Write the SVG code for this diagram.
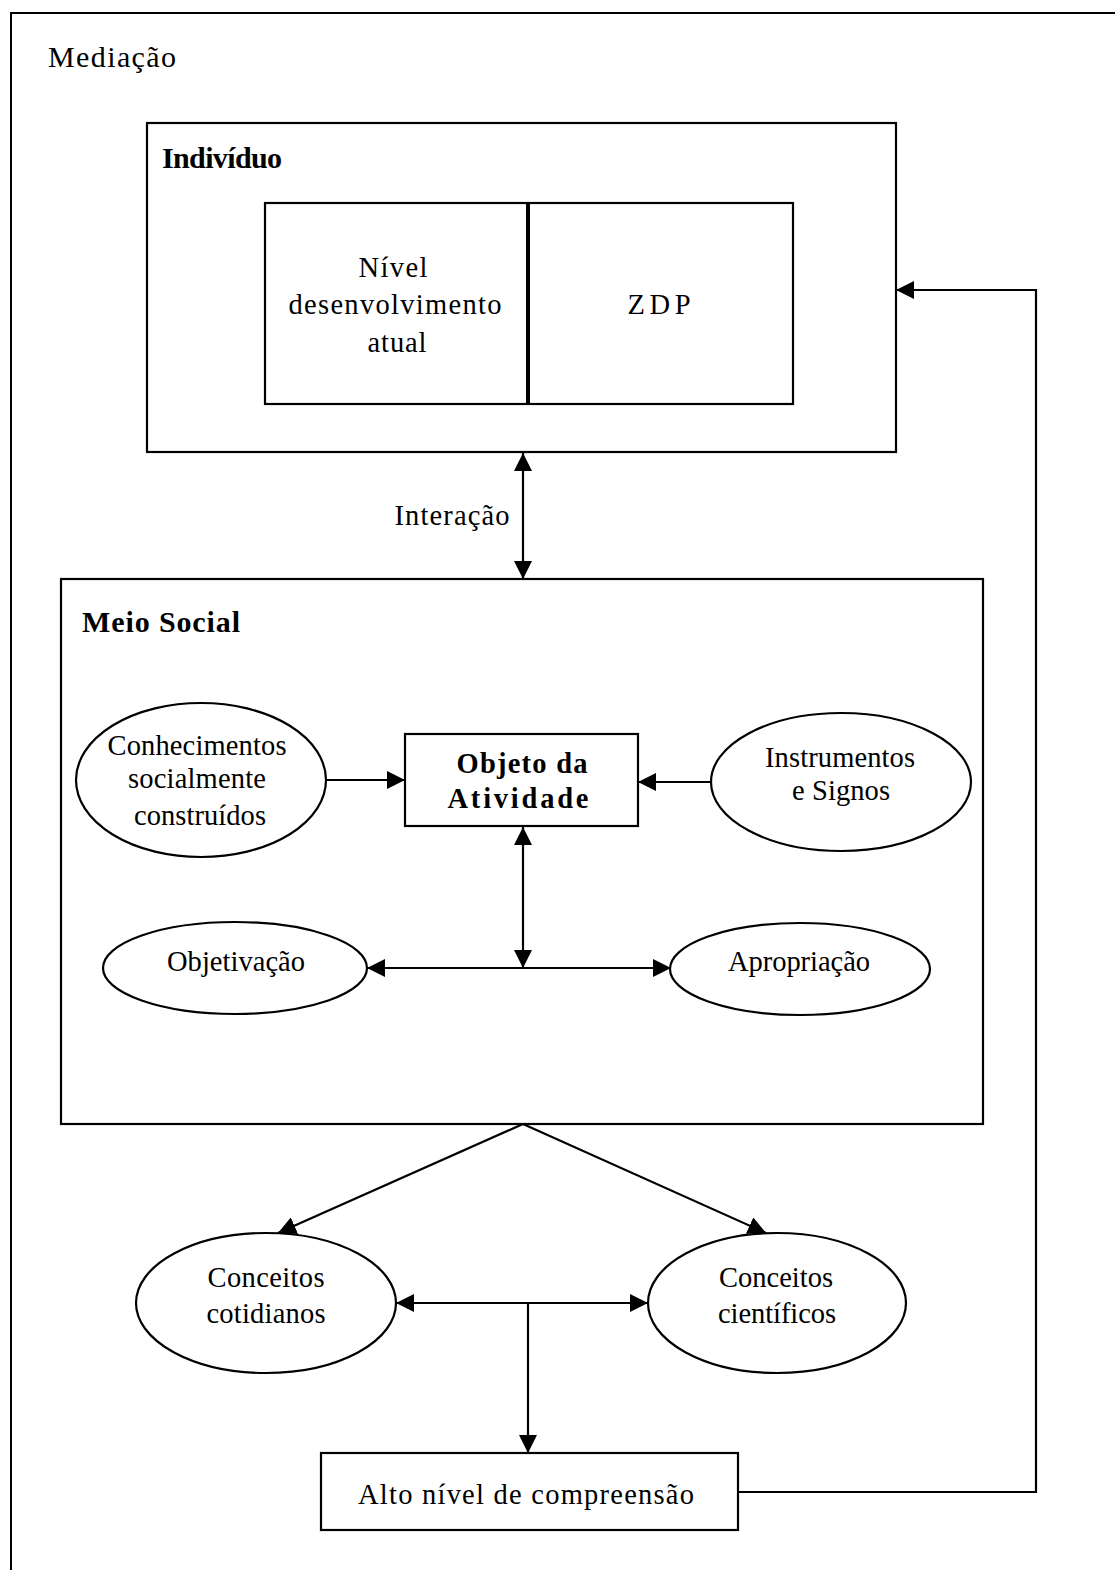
<svg xmlns="http://www.w3.org/2000/svg" width="1115" height="1570" viewBox="0 0 1115 1570">
  <style>
    .frame { fill: none; stroke: #000; stroke-width: 2; }
    .node { fill: #fff; stroke: #000; stroke-width: 2.2; }
    .link { fill: none; stroke: #000; stroke-width: 2.2; }
    .t { font-family: "Liberation Serif", "Times New Roman", serif; font-size: 28.5px; fill: #000; text-anchor: middle; }
    .title { font-family: "Liberation Serif", "Times New Roman", serif; font-size: 30px; fill: #000; }
    .b { font-weight: bold; }
  </style>
  <defs>
    <marker id="ah" viewBox="0 0 18 18" refX="18" refY="9" markerWidth="18" markerHeight="18" markerUnits="userSpaceOnUse" orient="auto-start-reverse">
      <path d="M0,0 L18,9 L0,18 z" fill="#000"/>
    </marker>
  </defs>

  <rect width="1115" height="1570" fill="#fff"/>

  <!-- outer frame: Mediação -->
  <g id="mediacao">
    <path class="frame" d="M11,1570 V13 H1115"/>
    <text class="title" x="48" y="67" textLength="128">Mediação</text>
  </g>

  <!-- Indivíduo -->
  <g id="individuo">
    <rect class="node" x="147" y="123" width="749" height="329"/>
    <text class="title b" x="162" y="168" font-size="29" textLength="120">Indivíduo</text>
  </g>
  <g id="nivel-zdp">
    <rect class="node" x="265" y="203" width="528" height="201"/>
    <line x1="528" y1="203" x2="528" y2="404" stroke="#000" stroke-width="4"/>
    <text class="t" x="393" y="277" textLength="69">Nível</text>
    <text class="t" x="395" y="314" textLength="213">desenvolvimento</text>
    <text class="t" x="397" y="352" textLength="59">atual</text>
    <text class="t" x="659" y="314" textLength="63">ZDP</text>
  </g>

  <!-- Meio Social -->
  <g id="meio-social">
    <rect class="node" x="61" y="579" width="922" height="545"/>
    <text class="title b" x="82" y="632" font-size="29" textLength="158">Meio Social</text>
  </g>
  <g id="conhecimentos">
    <ellipse class="node" cx="201" cy="780" rx="125" ry="77"/>
    <text class="t" x="197" y="755" textLength="179">Conhecimentos</text>
    <text class="t" x="197" y="788" textLength="138">socialmente</text>
    <text class="t" x="200" y="825" textLength="132">construídos</text>
  </g>
  <g id="objeto">
    <rect class="node" x="405" y="734" width="233" height="92"/>
    <text class="t b" x="522" y="773" textLength="131">Objeto da</text>
    <text class="t b" x="518" y="808" textLength="141">Atividade</text>
  </g>
  <g id="instrumentos">
    <ellipse class="node" cx="841" cy="782" rx="130" ry="69"/>
    <text class="t" x="840" y="767" textLength="150">Instrumentos</text>
    <text class="t" x="841" y="800" textLength="98">e Signos</text>
  </g>
  <g id="objetivacao">
    <ellipse class="node" cx="235" cy="968" rx="132" ry="46"/>
    <text class="t" x="236" y="971" textLength="138">Objetivação</text>
  </g>
  <g id="apropriacao">
    <ellipse class="node" cx="800" cy="969" rx="130" ry="46"/>
    <text class="t" x="799" y="971" textLength="142">Apropriação</text>
  </g>

  <!-- conceitos -->
  <g id="cotidianos">
    <ellipse class="node" cx="266" cy="1303" rx="130" ry="70"/>
    <text class="t" x="266" y="1287" textLength="117">Conceitos</text>
    <text class="t" x="266" y="1323" textLength="119">cotidianos</text>
  </g>
  <g id="cientificos">
    <ellipse class="node" cx="777" cy="1303" rx="129" ry="70"/>
    <text class="t" x="776" y="1287" textLength="114">Conceitos</text>
    <text class="t" x="777" y="1323" textLength="118">científicos</text>
  </g>
  <g id="alto-nivel">
    <rect class="node" x="321" y="1453" width="417" height="77"/>
    <text class="t" x="526" y="1504" textLength="336">Alto nível de compreensão</text>
  </g>

  <!-- connectors -->
  <g id="connectors">
    <line class="link" x1="523" y1="453" x2="523" y2="579" marker-start="url(#ah)" marker-end="url(#ah)"/>
    <text class="t" x="452" y="525" textLength="115">Interação</text>
    <line class="link" x1="326" y1="780" x2="405" y2="780" marker-end="url(#ah)"/>
    <line class="link" x1="711" y1="782" x2="638" y2="782" marker-end="url(#ah)"/>
    <line class="link" x1="523" y1="827" x2="523" y2="968" marker-start="url(#ah)" marker-end="url(#ah)"/>
    <line class="link" x1="367" y1="968" x2="671" y2="968" marker-start="url(#ah)" marker-end="url(#ah)"/>
    <line class="link" x1="523" y1="1124" x2="278" y2="1233" marker-end="url(#ah)"/>
    <line class="link" x1="523" y1="1124" x2="766" y2="1233" marker-end="url(#ah)"/>
    <line class="link" x1="396" y1="1303" x2="648" y2="1303" marker-start="url(#ah)" marker-end="url(#ah)"/>
    <line class="link" x1="528" y1="1303" x2="528" y2="1453" marker-end="url(#ah)"/>
    <path class="link" d="M738,1492 H1036 V290 H896" marker-end="url(#ah)"/>
  </g>
</svg>
